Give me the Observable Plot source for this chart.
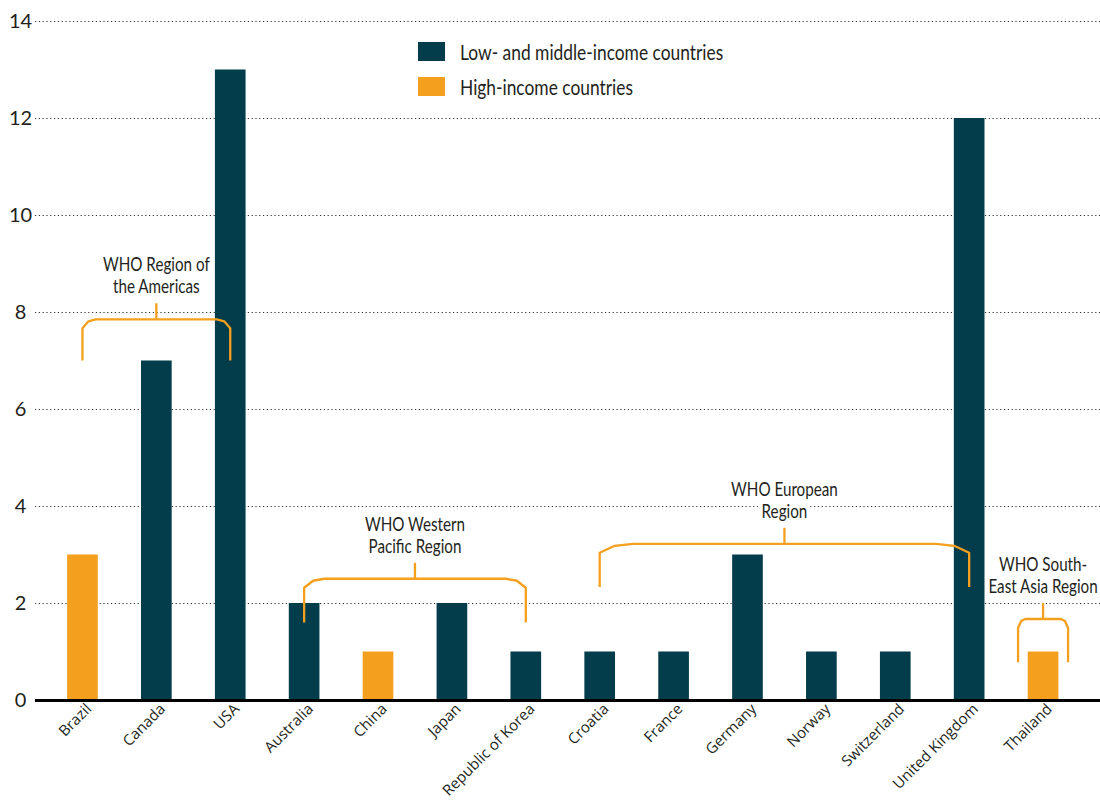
<!DOCTYPE html>
<html>
<head>
<meta charset="utf-8">
<script src="https://cdn.jsdelivr.net/npm/d3@7"></script>
<script src="https://cdn.jsdelivr.net/npm/@observablehq/plot@0.6"></script>
<style>
  body { margin: 0; background: #fff; }
  #wrap { position: relative; width: 1100px; height: 802px; font-family: Lato, "Noto Sans", sans-serif; color: #231f20; }
  #legend { position: absolute; left: 418px; top: 34px; }
  .item { display: flex; align-items: center; height: 35px; font-size: 22px; white-space: nowrap; }
  .sw { width: 27px; height: 19px; margin-right: 15px; flex: none; }
  .item span { display: inline-block; transform: scaleX(0.79); transform-origin: 0 50%; }
</style>
</head>
<body>
<div id="wrap"><div id="legend"></div></div>
<script>
// ---- data ----
const countries = ["Brazil", "Canada", "USA", "Australia", "China", "Japan", "Republic of Korea",
  "Croatia", "France", "Germany", "Norway", "Switzerland", "United Kingdom", "Thailand"];
const values = [3, 7, 13, 2, 1, 2, 1, 1, 1, 3, 1, 1, 12, 1];
const groups = ["High-income countries", "Low- and middle-income countries", "Low- and middle-income countries",
  "Low- and middle-income countries", "High-income countries", "Low- and middle-income countries",
  "Low- and middle-income countries", "Low- and middle-income countries", "Low- and middle-income countries",
  "Low- and middle-income countries", "Low- and middle-income countries", "Low- and middle-income countries",
  "Low- and middle-income countries", "High-income countries"];
const legendLabels = ["Low- and middle-income countries", "High-income countries"];
const legendColors = ["#033d4c", "#f49f1d"];
const yTicks = [0, 2, 4, 6, 8, 10, 12, 14];

const regionLabels = ["WHO Region of\nthe Americas", "WHO Western\nPacific Region", "WHO European\nRegion", "WHO South-\nEast Asia Region"];
const regionFirst = ["Brazil", "Australia", "Croatia", "Thailand"];
const regionLast = ["USA", "Republic of Korea", "United Kingdom", "Thailand"];
const regionLegBottom = [7.0, 1.6, 2.33, 0.78];
const regionBracketY = [7.85, 2.5, 3.22, 1.67];

const bars = countries.map((c, i) => ({country: c, value: values[i], group: groups[i]}));
const regions = regionLabels.map((l, i) => ({label: l, first: regionFirst[i], last: regionLast[i], bottom: regionLegBottom[i], top: regionBracketY[i]}));

const orange = legendColors[1];
const textFont = 'Lato, "Noto Sans", sans-serif';

function regionGeom(r, scales) {
  const x = scales.x, y = scales.y;
  const bw = typeof x.bandwidth === "function" ? x.bandwidth() : (x.bandwidth || 0);
  let x0 = x(r.first) + bw / 2, x1 = x(r.last) + bw / 2;
  if (r.first === r.last) { x0 -= 25; x1 += 25; }
  return {x0, x1, xm: (x0 + x1) / 2, yb: y(r.bottom), yt: y(r.top)};
}

// region labels (halo = true draws only the white knock-out under the text, below the bars)
function labelMark(halo) {
  return function (index, scales) {
    const g = d3.create("svg:g");
    for (const r of regions) {
      const {xm, yt} = regionGeom(r, scales);
      const lines = r.label.split("\n");
      const t = g.append("text")
        .attr("text-anchor", "middle")
        .attr("font-family", textFont)
        .attr("font-size", 19.5)
        .attr("transform", `translate(${xm},0) scale(0.78,1)`)
        .attr("fill", halo ? "white" : "#231f20");
      if (halo) t.attr("stroke", "white").attr("stroke-width", 12).attr("stroke-linejoin", "round");
      lines.forEach((ln, k) => {
        t.append("tspan").attr("x", 0).attr("y", yt - 16 - 10 - (lines.length - 1 - k) * 22).text(ln);
      });
    }
    return g.node();
  };
}

// region brackets
function bracketMark(index, scales) {
  const g = d3.create("svg:g");
  for (const r of regions) {
    const {x0, x1, xm, yb, yt} = regionGeom(r, scales);
    const c = Math.max(7, 0.09 * (x1 - x0));
    const path = `M${x0},${yb}V${yt + 9}L${x0 + c * 0.45},${yt + 2}L${x0 + c},${yt}H${x1 - c}L${x1 - c * 0.45},${yt + 2}L${x1},${yt + 9}V${yb}M${xm},${yt}V${yt - 16}`;
    g.append("path").attr("d", path).attr("fill", "none").attr("stroke", orange)
      .attr("stroke-width", 2.3).attr("stroke-linejoin", "round");
  }
  return g.node();
}

const chart = Plot.plot({
  width: 1100,
  height: 802,
  marginLeft: 35,
  marginRight: 0,
  marginTop: 21,
  marginBottom: 102,
  style: {fontFamily: textFont, color: "#231f20", background: "white"},
  x: {domain: countries, range: [45.5, 1080], paddingInner: 0.585, paddingOuter: 0.2925, round: false, label: null},
  y: {domain: [0, 14], ticks: yTicks, label: null},
  color: {domain: legendLabels, range: legendColors},
  marks: [
    Plot.gridY(yTicks.filter(d => d > 0), {stroke: "#333", strokeOpacity: 1, strokeWidth: 1.1, strokeDasharray: "1.2,2.6"}),
    labelMark(true),
    Plot.barY(bars, {x: "country", y: "value", fill: "group"}),
    Plot.ruleY([0], {stroke: "#000", strokeWidth: 3}),
    Plot.axisY(yTicks, {tickSize: 0, tickPadding: 15, textAnchor: "middle", fontSize: 20, label: null, fill: "#231f20"}),
    Plot.axisX({tickSize: 0, tickRotate: -45, tickPadding: 6, fontSize: 15, fontFamily: "Open Sans", label: null, fill: "#231f20", dx: 6}),
    labelMark(false),
    bracketMark
  ]
});
document.getElementById("wrap").prepend(chart);

const legend = document.getElementById("legend");
legendLabels.forEach((l, i) => {
  const item = document.createElement("div");
  item.className = "item";
  item.innerHTML = `<div class="sw" style="background:${legendColors[i]}"></div><span>${l}</span>`;
  legend.appendChild(item);
});
</script>
</body>
</html>
